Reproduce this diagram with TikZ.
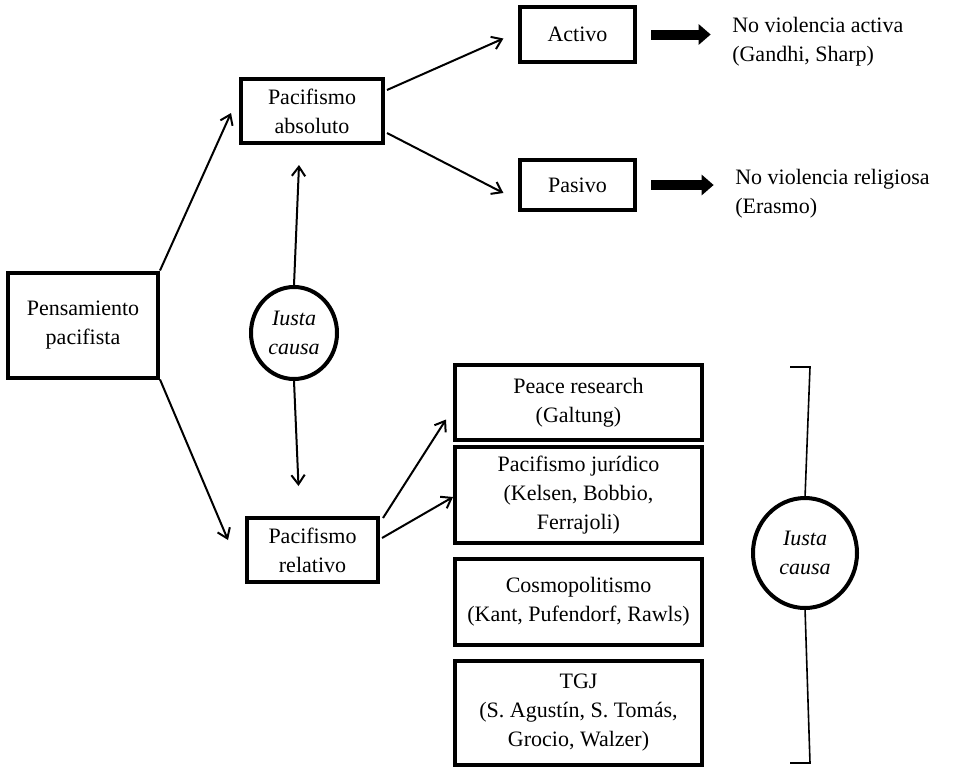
\documentclass[tikz,border=0pt]{standalone}
\usepackage{fontspec}
\setmainfont{Liberation Serif}
\usetikzlibrary{shapes.geometric,arrows.meta,calc}
\begin{document}
\begin{tikzpicture}[x=0.75pt,y=-0.75pt,
  every node/.style={font=\fontsize{16.5pt}{21.75pt}\selectfont, align=center},
  box/.style={draw, line width=3pt, inner sep=0pt},
  sbox/.style={draw, line width=2.4pt, inner sep=0pt},
  circ/.style={draw, ellipse, line width=3pt, inner sep=0pt, fill=white, font=\fontsize{16.5pt}{21.75pt}\selectfont\itshape},
  arr/.style={line width=1.5pt, -{Straight Barb[length=7pt,width=10pt]}},
  fat/.style={line width=7.5pt, -{Triangle[length=9pt,width=15pt]}, shorten <=11pt, shorten >=16pt},
  brk/.style={line width=1.2pt},
  lbl/.style={anchor=west, inner sep=0pt, align=left}]
\useasboundingbox (0,0) rectangle (953,768);

\node[box, minimum width=112.5pt, minimum height=78.75pt] (pens) at (83,325) {Pensamiento\\pacifista};
\node[box, minimum width=106.5pt, minimum height=48pt] (abs) at (312,111) {Pacifismo\\absoluto};
\node[box, minimum width=98.25pt, minimum height=48pt] (rel) at (312.5,550) {Pacifismo\\relativo};
\node[sbox, minimum width=86.25pt, minimum height=41.25pt] (act) at (577.5,34.5) {Activo};
\node[sbox, minimum width=86.25pt, minimum height=37.5pt] (pas) at (577.5,185) {Pasivo};
\node[lbl] (t1) at (732,42) {No violencia activa\\(Gandhi, Sharp)};
\node[lbl] (t2) at (735,194) {No violencia religiosa\\(Erasmo)};

\node[box, minimum width=185.25pt, minimum height=56.25pt] (peace) at (578.5,402.5) {Peace research\\(Galtung)};
\node[box, minimum width=185.25pt, minimum height=72pt] (jur) at (578.5,495) {Pacifismo jurídico\\(Kelsen, Bobbio,\\Ferrajoli)};
\node[box, minimum width=185.25pt, minimum height=64.5pt] (cosmo) at (578.5,602) {Cosmopolitismo\\(Kant, Pufendorf, Rawls)};
\node[box, minimum width=185.25pt, minimum height=78pt] (tgj) at (578.5,713) {TGJ\\(S. Agustín, S. Tomás,\\Grocio, Walzer)};

\node[circ, minimum width=64.5pt, minimum height=69pt] (lc) at (294,333) {Iusta\\causa};

\coordinate (bt) at (790,367);
\coordinate (bb) at (790,763);
\draw[brk] (bt) -- ++(20,0) -- (805,498);
\draw[brk] (bb) -- ++(20,0) -- (805,608);
\node[circ, minimum width=78pt, minimum height=82.5pt] (rc) at (805,553) {Iusta\\causa};

% connectors
\draw[arr] (pens.north east) -- ($(abs.west)+(-8,2)$);
\draw[arr] (pens.south east) -- ($(rel.west)+(-17,-10)$);
\draw[arr] ($(abs.east)+(2,-21)$) -- ($(act.west)+(-15,4)$);
\draw[arr] ($(abs.east)+(2,22)$) -- ($(pas.west)+(-15,8)$);
\draw[arr] (lc.north) -- ($(abs.south)+(-13,20)$);
\draw[arr] (lc.south) -- ($(rel.north)+(-14,-30)$);
\draw[arr] ($(rel.north east)+(3,2)$) -- ($(peace.west)+(-7,17)$);
\draw[arr] ($(rel.east)+(2,-12)$) -- ($(jur.west)+(0,2)$);
\draw[fat] (act.east) -- (act.east -| t1.west);
\draw[fat] (pas.east) -- (pas.east -| t2.west);
\end{tikzpicture}
\end{document}
